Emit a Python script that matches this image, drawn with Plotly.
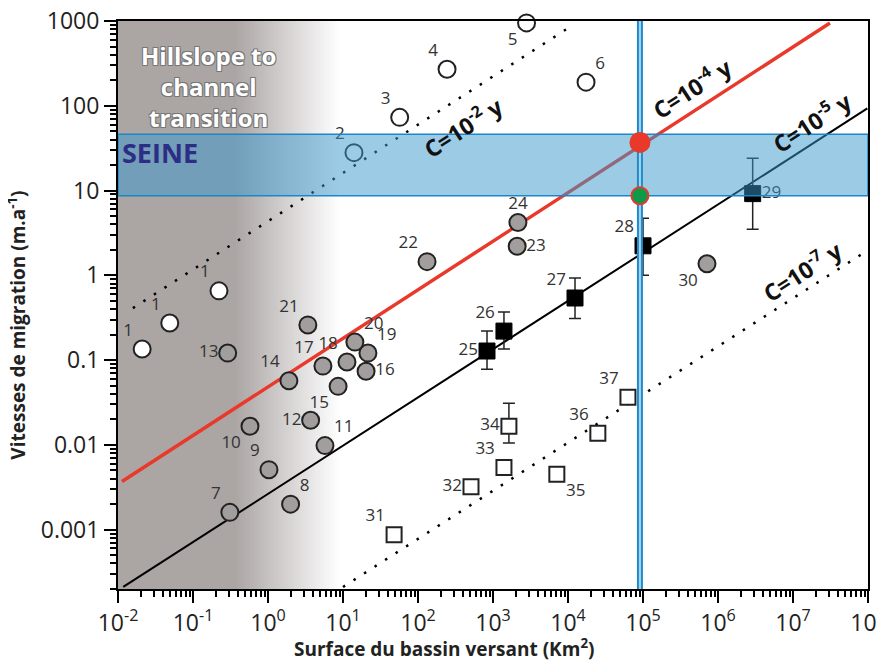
import plotly.graph_objects as go
import numpy as np

# ---------------- data ----------------
# open circles (ids 1-6)
oc_ids = ["1", "1", "1", "2", "3", "4", "5", "6"]
oc_x = [0.021, 0.049, 0.222, 14, 57, 244, 2800, 17400]
oc_y = [0.135, 0.274, 0.656, 28, 73, 270, 950, 190]
oc_pos = ["top left", "top left", "top left", "top left", "top left", "top left", "bottom left", "top right"]

# grey circles (ids 7-24, 30)
gc_ids = ["7", "8", "9", "10", "11", "12", "13", "14", "15", "16", "17", "18", "19", "20", "21", "22", "23", "24", "30"]
gc_x = [0.31, 2.0, 1.03, 0.575, 5.75, 3.7, 0.29, 1.9, 8.6, 20.3, 5.4, 11.3, 21.5, 14.4, 3.4, 132, 2100, 2150, 713000]
gc_y = [0.0016, 0.002, 0.0051, 0.0166, 0.0098, 0.0195, 0.121, 0.057, 0.049, 0.074, 0.085, 0.095, 0.121, 0.163, 0.26, 1.45, 2.2, 4.2, 1.37]
gc_pos = ["top left", "top right", "top left", "bottom left", "top right", "middle left", "middle left", "top left",
          "bottom left", "middle right", "top left", "top left", "top right", "top right", "top left", "top left",
          "middle right", "top center", "bottom left"]

# filled squares with error bars (ids 25-29)
fs_ids = ["25", "26", "27", "28", "29"]
fs_x = [832, 1400, 12400, 100000, 2.9e6]
fs_y = [0.128, 0.22, 0.54, 2.23, 9.2]
fs_hi = [0.22, 0.37, 0.93, 4.7, 24]
fs_lo = [0.078, 0.135, 0.31, 1.0, 3.5]
fs_pos = ["middle left", "top left", "top left", "top left", "middle right"]

# open squares (ids 31-37)
os_ids = ["31", "32", "33", "34", "35", "36", "37"]
os_x = [48, 509, 1400, 1630, 7100, 25000, 63000]
os_y = [0.00087, 0.0032, 0.0054, 0.0166, 0.0045, 0.0137, 0.0365]
os_hi = [0.00087, 0.0032, 0.0054, 0.031, 0.0045, 0.0137, 0.0365]
os_lo = [0.00087, 0.0032, 0.0054, 0.0105, 0.0045, 0.0137, 0.0365]
os_pos = ["top left", "middle left", "top left", "middle left", "bottom right", "top left", "top left"]

# constant-C lines (end points)
c2_x = [0.0158, 11700]
c2_y = [0.41, 900]
c4_x = [0.0113, 3.11e7]
c4_y = [0.0037, 946]
c5_x = [0.01175, 9.8e7]
c5_y = [0.000211, 93]
c7_x = [10, 9.7e7]
c7_y = [0.000211, 1.95]

# Seine
seine_area = 91000
seine_vmin = 8.7
seine_vmax = 46
seine_red = 37

x_tickvals = [1e-2, 1e-1, 1, 10, 100, 1e3, 1e4, 1e5, 1e6, 1e7, 1e8]
x_ticktext = ["10<sup>-2</sup>", "10<sup>-1</sup>", "10<sup>0</sup>", "10<sup>1</sup>", "10<sup>2</sup>",
              "10<sup>3</sup>", "10<sup>4</sup>", "10<sup>5</sup>", "10<sup>6</sup>", "10<sup>7</sup>", "10<sup>8</sup>"]
y_tickvals = [1e-3, 1e-2, 1e-1, 1, 10, 100, 1000]
y_ticktext = ["0.001", "0.01", "0.1", "1", "10", "100", "1000"]

# ---------------- figure ----------------
FONT = "Open Sans"
LBL = dict(family=FONT, size=17, color="#333333")
fig = go.Figure()

# trend lines
fig.add_trace(go.Scatter(x=c2_x, y=c2_y, mode="lines", line=dict(color="black", width=2.5, dash="2.5px,10px"), hoverinfo="skip"))
fig.add_trace(go.Scatter(x=c7_x, y=c7_y, mode="lines", line=dict(color="black", width=2.5, dash="2.5px,10px"), hoverinfo="skip"))
fig.add_trace(go.Scatter(x=c5_x, y=c5_y, mode="lines", line=dict(color="black", width=2), hoverinfo="skip"))
fig.add_trace(go.Scatter(x=c4_x, y=c4_y, mode="lines", line=dict(color="#e8392b", width=3.5), hoverinfo="skip"))

# points
fig.add_trace(go.Scatter(x=oc_x, y=oc_y, mode="markers",
                         marker=dict(symbol="circle", size=17, color="white", line=dict(color="#222", width=2)),
                         cliponaxis=False))
fig.add_trace(go.Scatter(x=gc_x, y=gc_y, mode="markers",
                         marker=dict(symbol="circle", size=17, color="#a29e9d", line=dict(color="#222", width=2)),
                         cliponaxis=False))
fig.add_trace(go.Scatter(x=fs_x, y=fs_y, mode="markers",
                         marker=dict(symbol="square", size=16, color="black", line=dict(color="black", width=1)),
                         error_y=dict(type="data", symmetric=False,
                                      array=[h - v for h, v in zip(fs_hi, fs_y)],
                                      arrayminus=[v - l for l, v in zip(fs_lo, fs_y)],
                                      color="#222", thickness=1.5, width=6),
                         cliponaxis=False))
fig.add_trace(go.Scatter(x=os_x, y=os_y, mode="markers",
                         marker=dict(symbol="square", size=15, color="white", line=dict(color="#222", width=2)),
                         error_y=dict(type="data", symmetric=False,
                                      array=[h - v for h, v in zip(os_hi, os_y)],
                                      arrayminus=[v - l for l, v in zip(os_lo, os_y)],
                                      color="#222", thickness=1.5, width=6),
                         cliponaxis=False))
# point number labels (closer to the markers)
for xs, ys, ids, pos in [(oc_x, oc_y, oc_ids, oc_pos), (gc_x, gc_y, gc_ids, gc_pos),
                         (fs_x, fs_y, fs_ids, fs_pos), (os_x, os_y, os_ids, os_pos)]:
    fig.add_trace(go.Scatter(x=xs, y=ys, mode="markers+text", text=ids, textposition=pos, textfont=LBL,
                             marker=dict(size=13, opacity=0), cliponaxis=False, hoverinfo="skip"))

# Seine band
fig.add_trace(go.Scatter(x=[1e-2, 1e8, 1e8, 1e-2, 1e-2],
                         y=[seine_vmin, seine_vmin, seine_vmax, seine_vmax, seine_vmin],
                         mode="lines", fill="toself", fillcolor="rgba(57,151,205,0.5)",
                         line=dict(color="#1c87c6", width=1.5), hoverinfo="skip"))
# vertical Seine line
fig.add_trace(go.Scatter(x=[seine_area, seine_area], y=[10 ** -3.7, 1000], mode="lines",
                         line=dict(color="#1f8ccb", width=6), hoverinfo="skip"))
fig.add_trace(go.Scatter(x=[seine_area, seine_area], y=[10 ** -3.7, 1000], mode="lines",
                         line=dict(color="#a9d5f0", width=2), hoverinfo="skip"))
# dots
fig.add_trace(go.Scatter(x=[seine_area], y=[seine_red], mode="markers",
                         marker=dict(size=21, color="#e8392b", line=dict(width=0)), cliponaxis=False))
fig.add_trace(go.Scatter(x=[seine_area], y=[seine_vmin], mode="markers",
                         marker=dict(size=17, color="#0e9a48", line=dict(color="#e8392b", width=2)), cliponaxis=False))

# gradient background (grey "hillslope" zone)
shapes = []
g0, g1 = 0.155, 0.295
base = np.array([171, 165, 164])
shapes.append(dict(type="rect", xref="x domain", yref="y domain", x0=0, x1=g0 + 0.001, y0=0, y1=1,
                   fillcolor="rgb(171,165,164)", line=dict(width=0), layer="below"))
N = 60
for i in range(N):
    a = g0 + (g1 - g0) * i / N
    b = g0 + (g1 - g0) * (i + 1) / N
    t = (i + 0.5) / N
    c = base + (255 - base) * t
    shapes.append(dict(type="rect", xref="x domain", yref="y domain", x0=a, x1=b + 0.001, y0=0, y1=1,
                       fillcolor="rgb(%d,%d,%d)" % tuple(c.astype(int)), line=dict(width=0), layer="below"))

ann = []
CF = dict(family=FONT, size=23, color="#111111", weight="bold")
ann.append(dict(x=2.6, y=1.746, xref="x", yref="y", text="C=10<sup>-2</sup> y", showarrow=False, textangle=-33, font=CF))
ann.append(dict(x=5.65, y=2.207, xref="x", yref="y", text="C=10<sup>-4</sup> y", showarrow=False, textangle=-33, font=CF))
ann.append(dict(x=7.25, y=1.805, xref="x", yref="y", text="C=10<sup>-5</sup> y", showarrow=False, textangle=-33, font=CF))
ann.append(dict(x=7.12, y=0.053, xref="x", yref="y", text="C=10<sup>-7</sup> y", showarrow=False, textangle=-33, font=CF))
ann.append(dict(x=-0.8, y=2.23, xref="x", yref="y", text="Hillslope to<br>channel<br>transition", showarrow=False,
                font=dict(family=FONT, size=24, color="white", weight="bold",
                          shadow="1px 1px 0 #777, -1px -1px 0 #777, 1px -1px 0 #777, -1px 1px 0 #777"),
                align="center"))
ann.append(dict(x=-1.97, y=1.45, xref="x", yref="y", text="SEINE", showarrow=False, xanchor="left",
                font=dict(family=FONT, size=27, color="#2e2d86", weight="bold")))
# axis titles
ann.append(dict(x=0.435, y=-0.104, xref="paper", yref="paper", showarrow=False, yanchor="middle",
                text="<b>Surface du bassin versant (Km<sup>2</sup>)</b>",
                font=dict(size=19, family=FONT, color="#222")))
ann.append(dict(x=-0.135, y=0.465, xref="paper", yref="paper", showarrow=False, textangle=-90,
                xanchor="center", yanchor="middle",
                text="<b>Vitesses de migration (m.a<sup>-1</sup>)</b>",
                font=dict(size=19, family=FONT, color="#222")))

fig.update_layout(
    width=885, height=666,
    margin=dict(l=110, r=25, t=13, b=85, autoexpand=False),
    paper_bgcolor="white", plot_bgcolor="white",
    showlegend=False,
    shapes=shapes, annotations=ann,
    font=dict(family=FONT, color="#222"),
)
fig.update_xaxes(type="log", range=[-2, 8], tickvals=x_tickvals, ticktext=x_ticktext, automargin=False,
                 ticklabeloverflow="allow",
                 tickfont=dict(size=23, family=FONT, color="#222"),
                 ticks="outside", ticklen=12, tickwidth=2, tickcolor="black",
                 minor=dict(ticks="outside", ticklen=6, tickwidth=1.5, tickcolor="black",
                            tickvals=[k * 10.0 ** n for n in range(-2, 8) for k in range(2, 10)]),
                 showline=True, linecolor="black", linewidth=2, mirror=True, showgrid=False, zeroline=False)
fig.update_yaxes(type="log", range=[-3.7, 3], tickvals=y_tickvals, ticktext=y_ticktext, automargin=False,
                 ticklabeloverflow="allow",
                 tickfont=dict(size=23, family=FONT, color="#222"),
                 ticks="outside", ticklen=12, tickwidth=2, tickcolor="black",
                 minor=dict(ticks="outside", ticklen=6, tickwidth=1.5, tickcolor="black",
                            tickvals=[k * 10.0 ** n for n in range(-4, 3) for k in range(2, 10)]),
                 showline=True, linecolor="black", linewidth=2, mirror=True, showgrid=False, zeroline=False)

fig.write_html("out.html")
